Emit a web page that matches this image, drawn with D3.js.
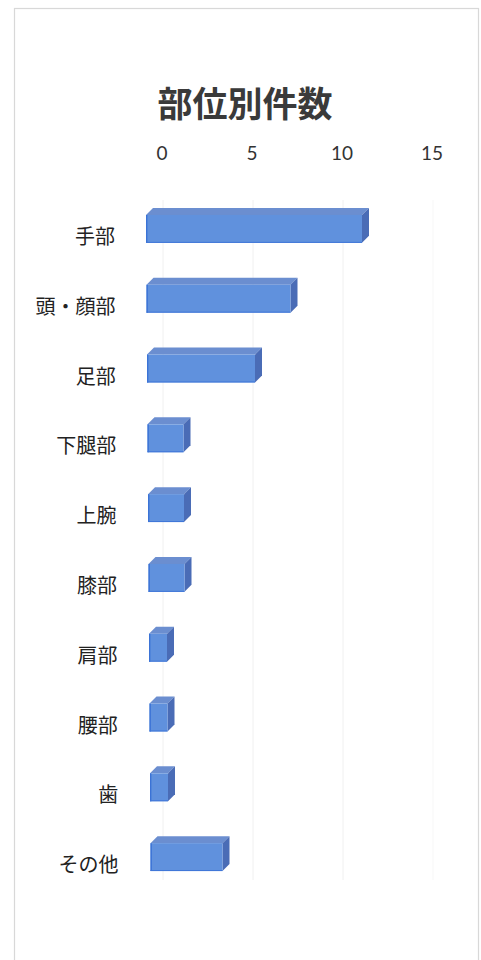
<!DOCTYPE html>
<html><head><meta charset="utf-8">
<script src="https://cdn.jsdelivr.net/npm/d3@7"></script>
<style>body{margin:0;background:#fff}svg{display:block}</style>
</head><body>
<script>
const categories = ["手部","頭・顔部","足部","下腿部","上腕","膝部","肩部","腰部","歯","その他"];
const values = [12, 8, 6, 2, 2, 2, 1, 1, 1, 4];
const ticks = [0, 5, 10, 15];
const title = "部位別件数";

const W = 481, H = 960;
const svg = d3.select("body").append("svg").attr("width", W).attr("height", H);

// page border (scanned sheet)
svg.append("rect").attr("x", 14.5).attr("y", 8.5).attr("width", 464).attr("height", 960)
  .attr("fill", "none").attr("stroke", "#d8d8d8").attr("stroke-width", 1.2);

const x = d3.scaleLinear().domain([0, 15]).range([162, 432]);
const y = d3.scaleBand().domain(categories).range([194, 892]).paddingInner(0.6).paddingOuter(0.3);

// gridlines (very faint in the scan)
svg.append("g").selectAll("line").data(ticks).join("line")
  .attr("x1", d => x(d) + 1).attr("x2", d => x(d) + 1)
  .attr("y1", 200).attr("y2", 880)
  .attr("stroke", d => d === 15 ? "#f7f7f7" : "#f0f0f0").attr("stroke-width", 1);

// tick labels (top)
svg.append("g").selectAll("text").data(ticks).join("text")
  .attr("x", d => x(d)).attr("y", 160)
  .attr("text-anchor", "middle")
  .attr("font-family", "Lato, 'Noto Sans', sans-serif")
  .attr("font-size", 19).attr("fill", "#333")
  .text(d => d);

// title
svg.append("text").attr("x", 245).attr("y", 117).attr("text-anchor", "middle")
  .attr("font-family", "'Noto Sans CJK JP', sans-serif").attr("font-weight", 700)
  .attr("font-size", 35).attr("fill", "#3a3a3a").text(title);

// category labels
svg.append("g").selectAll("text").data(categories).join("text")
  .attr("x", (d, i) => 115 + i * 0.4)
  .attr("y", d => y(d) + y.bandwidth() / 2 + 8)
  .attr("dy", "0.35em")
  .attr("text-anchor", "end")
  .attr("font-family", "'Noto Sans CJK JP', sans-serif")
  .attr("font-size", 20).attr("fill", "#222")
  .text(d => d);

// 3D bars
const dx = 7, dy = -7;
const bars = svg.append("g").selectAll("g").data(categories).join("g");
bars.each(function(c, i) {
  const g = d3.select(this);
  const v = values[i];
  const x0 = x(0) - 16 + i * 0.5;
  const w = x(v) - x(0);
  const y0 = y(c), h = y.bandwidth();
  g.append("path")
    .attr("d", `M${x0},${y0} L${x0 + dx},${y0 + dy} L${x0 + w + dx},${y0 + dy} L${x0 + w},${y0} Z`)
    .attr("fill", "#6b8ed0");
  g.append("path")
    .attr("d", `M${x0 + w},${y0} L${x0 + w + dx},${y0 + dy} L${x0 + w + dx},${y0 + h + dy} L${x0 + w},${y0 + h} Z`)
    .attr("fill", "#4a6cb6");
  g.append("rect").attr("x", x0).attr("y", y0).attr("width", w).attr("height", h)
    .attr("fill", "#6091dd");
  g.append("line").attr("x1", x0 + 0.7).attr("x2", x0 + 0.7).attr("y1", y0).attr("y2", y0 + h)
    .attr("stroke", "#3b73d6").attr("stroke-width", 1.4);
  g.append("line").attr("x1", x0).attr("x2", x0 + w).attr("y1", y0 + h - 0.5).attr("y2", y0 + h - 0.5)
    .attr("stroke", "#3f76d8").attr("stroke-width", 1);
});
</script>
</body></html>
